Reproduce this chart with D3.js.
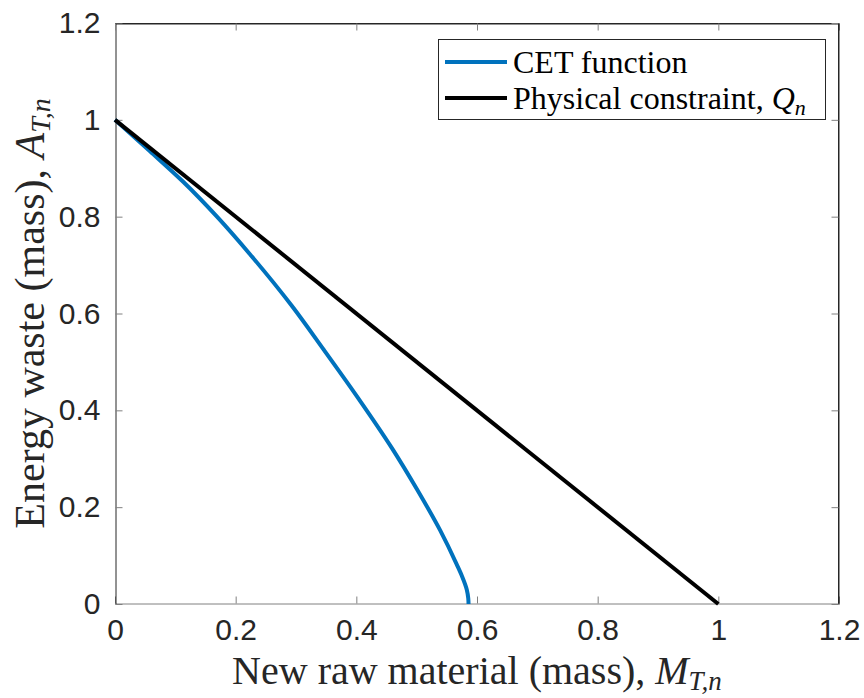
<!DOCTYPE html>
<html><head><meta charset="utf-8">
<script src="https://cdn.jsdelivr.net/npm/d3@7"></script>
<style>
body{margin:0;background:#fff}svg{display:block}
</style>
</head><body>
<svg id="c" width="864" height="698"></svg>
<script>
const cetM = [0, 0.058, 0.113, 0.169, 0.224, 0.293, 0.345, 0.401, 0.459, 0.500, 0.539, 0.566, 0.575, 0.583, 0.5855, 0.586];
const cetA = [1, 0.935, 0.872, 0.800, 0.722, 0.616, 0.527, 0.429, 0.322, 0.238, 0.152, 0.083, 0.058, 0.030, 0.012, 0];
const constrM = [0, 1];
const constrA = [1, 0];
const tickVals = [0, 0.2, 0.4, 0.6, 0.8, 1, 1.2];
const tickLabels = ["0", "0.2", "0.4", "0.6", "0.8", "1", "1.2"];
const seriesNames = ["CET function", "Physical constraint, "];

const L = 115, R = 839, T = 23, B = 604;
const svg = d3.select("#c");
const x = d3.scaleLinear().domain([0, 1.2]).range([L, R]);
const y = d3.scaleLinear().domain([0, 1.2]).range([B, T]);

const SERIF = "'Liberation Serif','Times New Roman','DejaVu Serif',serif";
const SANS = "'Liberation Sans',Arial,Helvetica,sans-serif";
const axisCol = "#262626";
const tickLen = 7;

svg.append("line").attr("x1", L).attr("x2", R).attr("y1", T + 0.5).attr("y2", T + 0.5).attr("stroke", axisCol).attr("stroke-width", 1);
svg.append("line").attr("x1", R - 0.5).attr("x2", R - 0.5).attr("y1", T).attr("y2", B).attr("stroke", axisCol).attr("stroke-width", 1);

const xAxis = d3.axisBottom(x).tickValues(tickVals).tickFormat((d, i) => tickLabels[i]).tickSizeInner(-tickLen).tickSizeOuter(0).tickPadding(15);
const yAxis = d3.axisLeft(y).tickValues(tickVals).tickFormat((d, i) => tickLabels[i]).tickSizeInner(-tickLen).tickSizeOuter(0).tickPadding(15);
const xTop = d3.axisTop(x).tickValues(tickVals).tickFormat("").tickSizeInner(-tickLen).tickSizeOuter(0);
const yRight = d3.axisRight(y).tickValues(tickVals).tickFormat("").tickSizeInner(-tickLen).tickSizeOuter(0);

const gx = svg.append("g").attr("transform", `translate(0,${B - 0.5})`).call(xAxis);
const gy = svg.append("g").attr("transform", `translate(${L + 0.5},0)`).call(yAxis);
const gt = svg.append("g").attr("transform", `translate(0,${T + 0.5})`).call(xTop);
const gr = svg.append("g").attr("transform", `translate(${R - 0.5},0)`).call(yRight);
[gx, gy, gt, gr].forEach(g => {
  g.attr("font-family", SANS).attr("font-size", 30);
  g.select(".domain").attr("stroke", axisCol);
  g.selectAll(".tick line").attr("stroke", "#808080");
  g.selectAll("text").attr("fill", axisCol);
});
gx.select(".domain").attr("stroke", "#808080");
gx.selectAll("text").attr("dy", "0.71em");

const cetData = cetM.map((m, i) => [m, cetA[i]]);
svg.append("path").datum(cetData)
  .attr("d", d3.line().x(d => x(d[0])).y(d => y(d[1])).curve(d3.curveMonotoneY))
  .attr("fill", "none").attr("stroke", "#0072BD").attr("stroke-width", 4);
const cData = constrM.map((m, i) => [m, constrA[i]]);
svg.append("path").datum(cData)
  .attr("d", d3.line().x(d => x(d[0])).y(d => y(d[1])))
  .attr("fill", "none").attr("stroke", "#000").attr("stroke-width", 4);

const lg = svg.append("g");
lg.append("rect").attr("x", 438.5).attr("y", 39.5).attr("width", 387).attr("height", 80).attr("fill", "#fff").attr("stroke", axisCol).attr("stroke-width", 1);
const legColors = ["#0072BD", "#000"];
const rowsY = [62, 98];
seriesNames.forEach((n, i) => {
  lg.append("line").attr("x1", 445).attr("x2", 507).attr("y1", rowsY[i]).attr("y2", rowsY[i]).attr("stroke", legColors[i]).attr("stroke-width", 4);
  const t = lg.append("text").attr("font-family", SERIF).attr("x", 513).attr("y", rowsY[i]).attr("dy", "0.34em").attr("font-size", 32).attr("fill", "#000").text(n);
  if (i === 1) {
    t.append("tspan").attr("font-style", "italic").text("Q");
    t.append("tspan").attr("font-style", "italic").attr("font-size", 22).attr("dy", 6).text("n");
  }
});

const xl = svg.append("text").attr("font-family", SERIF).attr("x", (L + R) / 2).attr("y", 684).attr("text-anchor", "middle").attr("font-size", 40).attr("fill", axisCol).text("New raw material (mass), ");
xl.append("tspan").attr("font-style", "italic").text("M");
xl.append("tspan").attr("font-style", "italic").attr("font-size", 27).attr("dy", 6).text("T,n");

const yl = svg.append("text").attr("font-family", SERIF).attr("transform", `translate(44,${(T + B) / 2}) rotate(-90)`).attr("text-anchor", "middle").attr("font-size", 42).attr("fill", axisCol).text("Energy waste (mass), ");
yl.append("tspan").attr("font-style", "italic").text("A");
yl.append("tspan").attr("font-style", "italic").attr("font-size", 28).attr("dy", 6).text("T,n");
</script>
</body></html>
